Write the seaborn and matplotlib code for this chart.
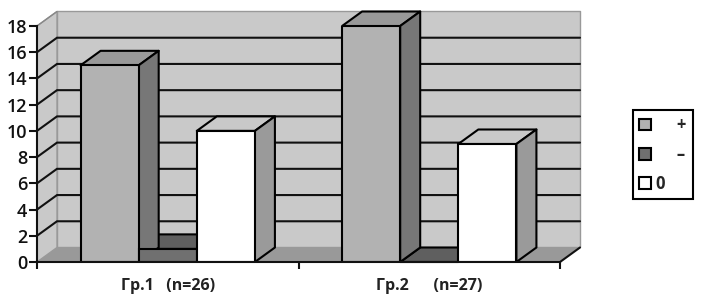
import pandas as pd
import seaborn as sns
import matplotlib.pyplot as plt
from matplotlib.patches import Polygon, Patch

groups = ['Гр.1   (n=26)', 'Гр.2      (n=27)']
series = ['+', '–', '0']
plus_values = [15, 18]
minus_values = [1, 0]
zero_values = [10, 9]
y_ticks = [0, 2, 4, 6, 8, 10, 12, 14, 16, 18]

front_colors = ['#b2b2b2', '#707070', '#ffffff']
side_colors = ['#777777', '#5a5a5a', '#9a9a9a']
top_colors = ['#999999', '#5f5f5f', '#c9c9c9']

df = pd.DataFrame({
    'group': groups * 3,
    'series': [s for s in series for _ in groups],
    'value': plus_values + minus_values + zero_values,
})

sns.set_style('white')
plt.rcParams['font.family'] = ['Open Sans', 'DejaVu Sans']

fig = plt.figure(figsize=(7.06, 3.04), dpi=100)
ax = fig.add_axes([37 / 706, 42 / 304, 523 / 706, 236 / 304])
ax.patch.set_visible(False)

sns.barplot(data=df, x='group', y='value', hue='series', hue_order=series,
            order=groups, palette=front_colors, saturation=1, width=2 / 3, gap=0,
            edgecolor='black', linewidth=1.5, legend=False, zorder=5, ax=ax)
ax.set_xlim(-0.5, 1.5)
ax.set_ylim(0, 18)

# depth of the fake 3d box, in data units
dx = 20 / 261.5
dy = 14.5 / 13.11


def poly(points, color, z, edge='black', lw=1.5):
    ax.add_patch(Polygon(points, closed=True, facecolor=color, edgecolor=edge,
                         linewidth=lw, zorder=z, clip_on=False, joinstyle='round'))


# back wall, side wall, floor
poly([(-0.5 + dx, dy), (1.5 + dx, dy), (1.5 + dx, 18 + dy), (-0.5 + dx, 18 + dy)], '#c9c9c9', 1, edge='#999999', lw=1)
poly([(-0.5, 0), (-0.5 + dx, dy), (-0.5 + dx, 18 + dy), (-0.5, 18)], '#c9c9c9', 1, edge='#999999', lw=1)
poly([(-0.5, 0), (1.5, 0), (1.5 + dx, dy), (-0.5 + dx, dy)], '#999999', 1.5, edge='none', lw=0)

# grid lines run along the wall and round the side wall
for v in y_ticks[1:-1]:
    ax.plot([-0.5, -0.5 + dx, 1.5 + dx], [v, v + dy, v + dy], color='#111111', lw=1.5,
            zorder=2, clip_on=False, solid_joinstyle='miter')
ax.plot([-0.5, -0.5 + dx], [18, 18 + dy], color='#888888', lw=1, zorder=2, clip_on=False)
ax.plot([1.5, 1.5 + dx], [0, dy], color='#111111', lw=1.5, zorder=2, clip_on=False)

# sides and tops, short bars first so the tall ones cover them
boxes = []
for c, (side, top) in zip(ax.containers, zip(side_colors, top_colors)):
    for bar in c:
        boxes.append((bar, side, top))
boxes.sort(key=lambda b: b[0].get_height())
for i, (bar, side, top) in enumerate(boxes):
    x0, w, h = bar.get_x(), bar.get_width(), bar.get_height()
    z = 3 + i * 0.01
    poly([(x0, h), (x0 + w, h), (x0 + w + dx, h + dy), (x0 + dx, h + dy)], top, z)
    poly([(x0 + w, 0), (x0 + w + dx, dy), (x0 + w + dx, h + dy), (x0 + w, h)], side, z)

for s in ['top', 'right']:
    ax.spines[s].set_visible(False)
for s in ['left', 'bottom']:
    ax.spines[s].set_linewidth(1.5)
    ax.spines[s].set_color('#111111')
    ax.spines[s].set_zorder(6)

ax.set_xlabel('')
ax.set_ylabel('')
ax.set_yticks(y_ticks)
ax.set_xticks([-0.5, 0.5, 1.5], minor=True)
ax.tick_params(axis='y', left=True, length=6, width=1.5, color='#111111', pad=1,
               labelsize=13, labelcolor='#111111')
ax.tick_params(axis='x', which='major', bottom=False, pad=8, labelsize=11.5, labelcolor='#222222')
ax.tick_params(axis='x', which='minor', bottom=True, length=5, width=1.5, color='#111111')
for t in ax.get_yticklabels():
    t.set_fontweight('semibold')
for t in ax.get_xticklabels():
    t.set_fontweight('bold')

handles = [Patch(facecolor=c, edgecolor='black', linewidth=1.5) for c in front_colors]
labels = ['     +', '     –', '0']
leg = fig.legend(handles, labels, loc='upper left',
                 bbox_to_anchor=(633 / 706, 1 - 110 / 304), borderaxespad=0,
                 handlelength=0.72, handleheight=0.72, handletextpad=0.24,
                 labelspacing=0.68, borderpad=0.38, frameon=True,
                 fancybox=False, edgecolor='black', framealpha=1,
                 prop={'size': 12, 'weight': 'bold'})
leg.get_frame().set_linewidth(1.5)

fig.savefig('out.png', dpi=100, facecolor='white')
